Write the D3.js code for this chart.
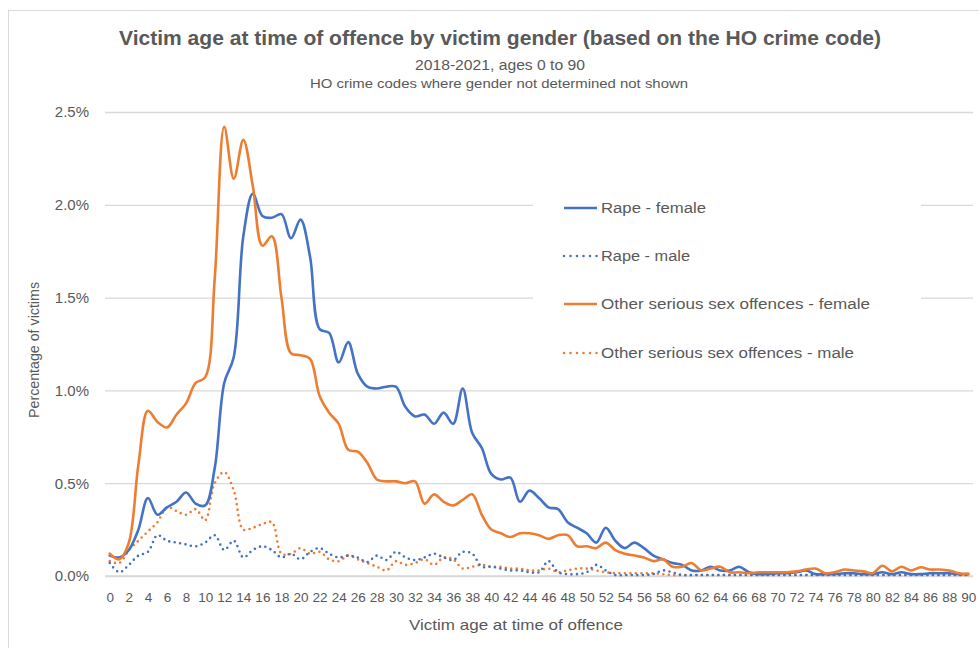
<!DOCTYPE html>
<html>
<head>
<meta charset="utf-8">
<script src="https://cdn.jsdelivr.net/npm/d3@7"></script>
<style>
  body { margin: 0; background: #fff; }
  svg text { font-family: "Liberation Sans", Arial, sans-serif; fill: #595959; }
</style>
</head>
<body>
<svg id="chart" width="979" height="648"></svg>
<script>
// ages 0..90
const ages = d3.range(0, 91);
const xTickLabels = d3.range(0, 91, 2);
const yTicks = [0, 0.5, 1.0, 1.5, 2.0, 2.5];

// percentage of victims
const rapeFemale = [
  0.11, 0.10, 0.14, 0.25, 0.42, 0.33, 0.37, 0.40, 0.45, 0.39,
  0.38, 0.58, 1.04, 1.18, 1.83, 2.06, 1.94, 1.93, 1.95, 1.82,
  1.92, 1.72, 1.33, 1.31, 1.15, 1.26, 1.09, 1.02, 1.01, 1.02,
  1.02, 0.91, 0.86, 0.87, 0.82, 0.88, 0.82, 1.01, 0.77, 0.69,
  0.55, 0.52, 0.53, 0.40, 0.46, 0.42, 0.37, 0.36, 0.29, 0.26,
  0.23, 0.18, 0.26, 0.19, 0.15, 0.18, 0.15, 0.11, 0.09, 0.07,
  0.06, 0.03, 0.03, 0.05, 0.03, 0.03, 0.05, 0.02, 0.01, 0.01,
  0.015, 0.015, 0.02, 0.03, 0.01, 0.01, 0.01, 0.015, 0.015, 0.01,
  0.01, 0.02, 0.01, 0.02, 0.01, 0.01, 0.015, 0.015, 0.015, 0.01,
  0.01
];
const rapeMale = [
  0.07, 0.02, 0.06, 0.11, 0.13, 0.22, 0.19, 0.18, 0.17, 0.16,
  0.18, 0.22, 0.14, 0.19, 0.10, 0.14, 0.16, 0.14, 0.10, 0.12,
  0.09, 0.13, 0.15, 0.12, 0.10, 0.11, 0.10, 0.075, 0.11, 0.086,
  0.13, 0.10, 0.086, 0.10, 0.12, 0.10, 0.086, 0.13, 0.12, 0.05,
  0.05, 0.04, 0.03, 0.03, 0.02, 0.02, 0.08, 0.02, 0.01, 0.01,
  0.02, 0.06, 0.03, 0.005, 0.005, 0.005, 0.005, 0.01, 0.03, 0.02,
  0.005, 0.005, 0.005, 0.005, 0.005, 0.005, 0.005, 0.005, 0.005, 0.005,
  0.005, 0.005, 0.005, 0.005, 0.005, 0.005, 0.005, 0.005, 0.005, 0.005,
  0.005, 0.005, 0.005, 0.005, 0.005, 0.005, 0.005, 0.005, 0.005, 0.005,
  0.005
];
const otherFemale = [
  0.12, 0.09, 0.18, 0.60, 0.89, 0.83, 0.80, 0.87, 0.93, 1.04,
  1.07, 1.60, 2.42, 2.14, 2.35, 2.10, 1.78, 1.83, 1.50, 1.20,
  1.19, 1.17, 0.97, 0.88, 0.82, 0.68, 0.67, 0.61, 0.52, 0.51,
  0.51, 0.50, 0.51, 0.39, 0.44, 0.40, 0.38, 0.41, 0.44, 0.33,
  0.25, 0.23, 0.21, 0.23, 0.23, 0.22, 0.20, 0.22, 0.22, 0.16,
  0.16, 0.15, 0.18, 0.14, 0.12, 0.11, 0.10, 0.08, 0.09, 0.05,
  0.05, 0.07, 0.03, 0.04, 0.05, 0.02, 0.02, 0.015, 0.02, 0.02,
  0.02, 0.02, 0.025, 0.035, 0.04, 0.015, 0.02, 0.035, 0.03, 0.025,
  0.015, 0.055, 0.025, 0.05, 0.03, 0.047, 0.035, 0.035, 0.03, 0.015,
  0.012
];
const otherMale = [
  0.08, 0.07, 0.14, 0.19, 0.24, 0.29, 0.37, 0.35, 0.33, 0.36,
  0.30, 0.50, 0.56, 0.46, 0.25, 0.26, 0.28, 0.29, 0.12, 0.12,
  0.15, 0.12, 0.13, 0.09, 0.08, 0.11, 0.09, 0.07, 0.05, 0.03,
  0.08, 0.06, 0.07, 0.09, 0.06, 0.10, 0.09, 0.04, 0.05, 0.06,
  0.05, 0.05, 0.04, 0.04, 0.03, 0.03, 0.04, 0.02, 0.03, 0.04,
  0.04, 0.03, 0.02, 0.015, 0.015, 0.015, 0.015, 0.015, 0.01, 0.005,
  0.005, 0.005, 0.005, 0.005, 0.005, 0.005, 0.005, 0.005, 0.005, 0.005,
  0.005, 0.005, 0.005, 0.005, 0.005, 0.005, 0.005, 0.005, 0.005, 0.005,
  0.005, 0.005, 0.005, 0.005, 0.005, 0.005, 0.005, 0.005, 0.005, 0.005,
  0.005
];

const seriesNames = [
  "Rape - female",
  "Rape - male",
  "Other serious sex offences - female",
  "Other serious sex offences - male"
];
const seriesValues = [rapeFemale, rapeMale, otherFemale, otherMale];
const seriesColors = ["#4472C4", "#4472C4", "#ED7D31", "#ED7D31"];
const seriesDotted = [false, true, false, true];

const svg = d3.select("#chart");
const plot = {left: 105, right: 973, top: 112, bottom: 576};

const x = d3.scalePoint()
  .domain(ages)
  .range([plot.left, plot.right])
  .padding(0.5);

const y = d3.scaleLinear()
  .domain([0, 2.5])
  .range([plot.bottom, plot.top]);

// chart border
svg.append("rect")
  .attr("x", 8.5).attr("y", 10.5)
  .attr("width", 1000).attr("height", 700)
  .attr("fill", "none")
  .attr("stroke", "#d9d9d9");

// titles
svg.append("text")
  .attr("x", 500).attr("y", 45)
  .attr("text-anchor", "middle")
  .attr("font-size", 20).attr("font-weight", "bold")
  .attr("textLength", 762).attr("lengthAdjust", "spacingAndGlyphs")
  .text("Victim age at time of offence by victim gender (based on the HO crime code)");

svg.append("text")
  .attr("x", 500).attr("y", 70)
  .attr("text-anchor", "middle")
  .attr("font-size", 14)
  .attr("textLength", 170).attr("lengthAdjust", "spacingAndGlyphs")
  .text("2018-2021, ages 0 to 90");

svg.append("text")
  .attr("x", 499).attr("y", 88)
  .attr("text-anchor", "middle")
  .attr("font-size", 12.5)
  .attr("textLength", 378).attr("lengthAdjust", "spacingAndGlyphs")
  .text("HO crime codes where gender not determined not shown");

// gridlines
const yAxis = d3.axisLeft(y)
  .tickValues(yTicks)
  .tickSize(-(plot.right - plot.left))
  .tickPadding(16)
  .tickFormat(d => d.toFixed(1) + "%");

const gy = svg.append("g")
  .attr("transform", `translate(${plot.left},0)`)
  .call(yAxis);
gy.select(".domain").remove();
gy.selectAll(".tick line").attr("stroke", "#d9d9d9").attr("stroke-width", 1.3);
gy.selectAll(".tick text")
  .attr("font-size", 15)
  .attr("fill", "#595959")
  .attr("font-family", "Liberation Sans, Arial, sans-serif");

// x axis
const xAxis = d3.axisBottom(x)
  .tickValues(xTickLabels)
  .tickSize(0)
  .tickPadding(16);

const gx = svg.append("g")
  .attr("transform", `translate(0,${plot.bottom})`)
  .call(xAxis);
gx.select(".domain").attr("stroke", "#d9d9d9").attr("stroke-width", 1.3)
  .attr("d", `M${plot.left},0H${plot.right}`);
gx.selectAll(".tick text")
  .attr("font-size", 13.5)
  .attr("fill", "#595959")
  .attr("font-family", "Liberation Sans, Arial, sans-serif");

// axis titles
svg.append("text")
  .attr("x", 516).attr("y", 630)
  .attr("text-anchor", "middle")
  .attr("font-size", 15)
  .attr("textLength", 214).attr("lengthAdjust", "spacingAndGlyphs")
  .text("Victim age at time of offence");

svg.append("text")
  .attr("transform", "translate(39,350) rotate(-90)")
  .attr("text-anchor", "middle")
  .attr("font-size", 15)
  .attr("textLength", 136).attr("lengthAdjust", "spacingAndGlyphs")
  .text("Percentage of victims");

// legend box sits over the gridlines
const legend = svg.append("g");
legend.append("rect")
  .attr("x", 533).attr("y", 150)
  .attr("width", 388).attr("height", 230)
  .attr("fill", "#fff");

// series
const line = d3.line()
  .x((d, i) => x(ages[i]))
  .y(d => y(d))
  .curve(d3.curveCatmullRom.alpha(0.5));

const drawOrder = [3, 1, 0, 2];
drawOrder.forEach(k => {
  svg.append("path")
    .datum(seriesValues[k])
    .attr("d", line)
    .attr("fill", "none")
    .attr("stroke", seriesColors[k])
    .attr("stroke-width", 2.6)
    .attr("stroke-linecap", "round")
    .attr("stroke-linejoin", "round")
    .attr("stroke-dasharray", seriesDotted[k] ? "0 5.5" : null);
});

const legendRows = [208, 256, 304, 353];
const legendWidths = [105, 89, 269, 253];
seriesNames.forEach((name, k) => {
  const ly = legendRows[k];
  legend.append("line")
    .attr("x1", 564).attr("x2", 597)
    .attr("y1", ly).attr("y2", ly)
    .attr("stroke", seriesColors[k])
    .attr("stroke-width", 2.6)
    .attr("stroke-linecap", seriesDotted[k] ? "round" : "butt")
    .attr("stroke-dasharray", seriesDotted[k] ? "0 6.5" : null);
  legend.append("text")
    .attr("x", 601).attr("y", ly + 5)
    .attr("font-size", 15.5)
    .attr("textLength", legendWidths[k]).attr("lengthAdjust", "spacingAndGlyphs")
    .text(name);
});
</script>
</body>
</html>
